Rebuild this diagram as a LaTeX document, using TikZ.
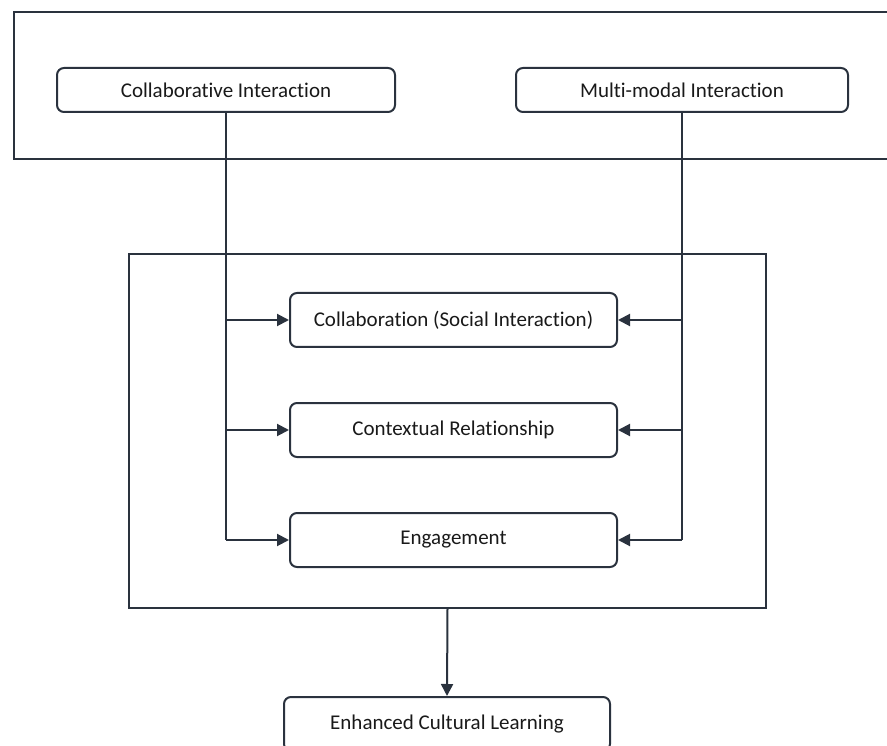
\documentclass[tikz,border=0pt]{standalone}
\usepackage{fontspec}
\setmainfont[Ligatures={NoCommon}]{Carlito}
\usepackage{tikz}
\usetikzlibrary{arrows.meta}
\definecolor{ink}{RGB}{42,50,62}
\definecolor{txt}{RGB}{25,25,25}
\tikzstyle{box}=[draw=ink, line width=2pt, rounded corners=7pt, minimum height=54pt, inner sep=0pt, text=txt, font=\fontsize{21}{24}\selectfont]
\tikzstyle{frame}=[draw=ink, line width=2pt, inner sep=0pt]
\tikzstyle{link}=[draw=ink, line width=2pt]
\tikzstyle{arr}=[link, -{Triangle[length=12pt,width=12pt]}]

\begin{document}
\begin{tikzpicture}[x=1pt,y=-1pt]
\clip (0,0) rectangle (887,746);
% frames
\node[frame, minimum width=900pt, minimum height=147pt] (top) at (464,85.5) {};
\node[frame, minimum width=637pt, minimum height=354pt] (mid) at (447.5,431) {};
% inputs
\node[box, minimum width=338pt, minimum height=44pt] (collab) at (226,90) {Collaborative Interaction};
\node[box, minimum width=332pt, minimum height=44pt] (multi) at (682,90) {Multi-modal Interaction};
% outcomes
\node[box, minimum width=327pt] (social) at (453.5,320) {Collaboration (Social Interaction)};
\node[box, minimum width=327pt] (context) at (453.5,430) {Contextual Relationship};
\node[box, minimum width=327pt] (engage) at (453.5,540) {Engagement};
\node[box, minimum width=326pt] (enh) at (447,724) {Enhanced Cultural Learning};
% bus lines
\coordinate (l1) at (collab.south |- social.west);
\coordinate (l2) at (collab.south |- context.west);
\coordinate (l3) at (collab.south |- engage.west);
\coordinate (r1) at (multi.south |- social.east);
\coordinate (r2) at (multi.south |- context.east);
\coordinate (r3) at (multi.south |- engage.east);
\draw[link] (collab.south) -- (l3);
\draw[link] (multi.south) -- (r3);
\draw[arr] (l1) -- (social.west);
\draw[arr] (l2) -- (context.west);
\draw[arr] (l3) -- (engage.west);
\draw[arr] (r1) -- (social.east);
\draw[arr] (r2) -- (context.east);
\draw[arr] (r3) -- (engage.east);
\draw[arr] (mid.south) -- (enh.north);
\end{tikzpicture}
\end{document}
